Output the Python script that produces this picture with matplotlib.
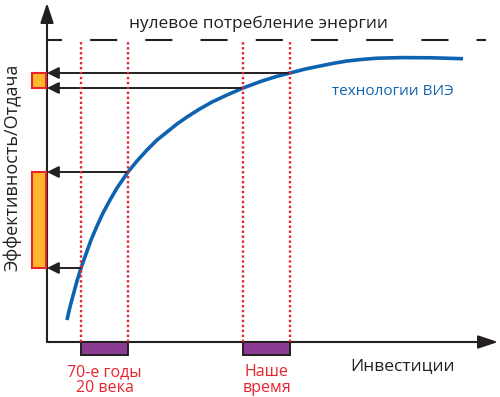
import matplotlib.pyplot as plt
from matplotlib.patches import Rectangle

plt.rcParams['font.family'] = ['Open Sans', 'DejaVu Sans']

# условные единицы: инвестиции (x) и эффективность/отдача (y)
curve_x = [20, 22, 24, 27, 30, 34, 39, 44, 50, 56, 63, 70, 81, 90, 100, 110,
           120, 130, 140, 152, 165, 180, 196, 215, 230, 243, 258, 273, 287,
           300, 315, 330, 355, 385, 416]
curve_y = [22, 31, 39, 50, 61, 74, 88, 102, 116, 129, 142, 154, 170, 181, 192,
           202, 210, 218, 225, 232.6, 240, 247, 254, 261, 265.7, 269, 272.9,
           276, 278.8, 281, 282.6, 283.8, 284.4, 284.2, 283.3]

periods = [(34, 81), (196, 243)]
period_labels = [['70-е годы', '20 века'], ['Наше', 'время']]
period_eff = [(74, 170), (254, 269)]
zero_level = 302

blue = '#0e63b1'
red = '#e8232c'
orange = '#fdb92a'
purple = '#8c3b92'
black = '#231f20'

fig = plt.figure(figsize=(5, 3.97), dpi=100)
ax = fig.add_axes([0, 0, 1, 1])
ax.set_xlim(-47, 453)
ax.set_ylim(-55, 342)
ax.axis('off')

# оси
ax.annotate('', xy=(451, 0), xytext=(0, 0),
            arrowprops=dict(arrowstyle='-|>,head_length=1.2,head_width=0.4',
                            color=black, lw=1.5, shrinkA=0, shrinkB=0))
ax.annotate('', xy=(0, 339), xytext=(0, 0),
            arrowprops=dict(arrowstyle='-|>,head_length=1.2,head_width=0.4',
                            color=black, lw=1.5, shrinkA=0, shrinkB=0))

# нулевое потребление
ax.plot([0, 439], [zero_level, zero_level], color=black, lw=1.5,
        linestyle=(5.8, (13, 13.5)), solid_capstyle='butt')
ax.text(211, 314, 'нулевое потребление энергии', fontsize=12.4,
        ha='center', va='baseline', color=black)

# кривая
ax.plot(curve_x, curve_y, color=blue, lw=2.6, solid_joinstyle='round',
        solid_capstyle='butt', zorder=3)
ax.text(346, 247, 'технологии ВИЭ', fontsize=11, color=blue,
        ha='center', va='baseline')

for (x0, x1), (y0, y1), lines in zip(periods, period_eff, period_labels):
    for x, y in ((x0, y0), (x1, y1)):
        ax.plot([x, x], [0, zero_level], color=red, lw=1.7,
                linestyle=(0, (1, 1.1)), zorder=5)
        ax.annotate('', xy=(0, y), xytext=(x, y),
                    arrowprops=dict(arrowstyle='-|>,head_length=0.7,head_width=0.35',
                                    color=black, lw=1.4, shrinkA=0, shrinkB=0),
                    zorder=4)
    ax.add_patch(Rectangle((x0, -13), x1 - x0, 13, facecolor=purple,
                           edgecolor=black, lw=1.4, zorder=4))
    ax.add_patch(Rectangle((-15, y0), 14, y1 - y0, facecolor=orange,
                           edgecolor=red, lw=1.5, zorder=4))
    xc = (x0 + x1) / 2
    ax.text(xc, -34, lines[0], fontsize=11.5, color=red, ha='center', va='baseline')
    ax.text(xc, -50, lines[1], fontsize=11.5, color=red, ha='center', va='baseline')

ax.text(356, -28, 'Инвестиции', fontsize=12.5, color=black, ha='center', va='baseline')
ax.text(-35, 175, 'Эффективность/Отдача', fontsize=13, color=black,
        rotation=90, ha='center', va='center')

fig.savefig('out.png', dpi=100)
